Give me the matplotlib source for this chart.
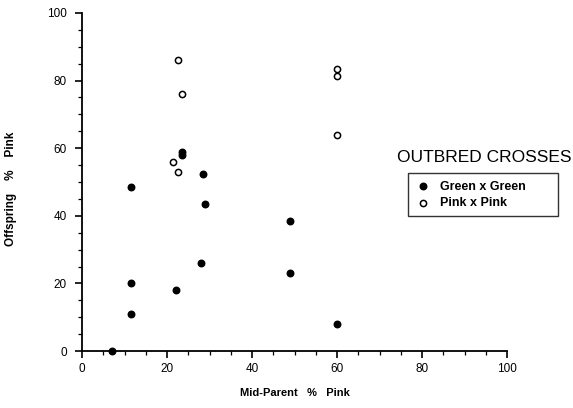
import matplotlib
matplotlib.use("Agg")
import matplotlib.pyplot as plt
from matplotlib.ticker import MultipleLocator

plt.rcParams['font.family'] = ['Liberation Sans', 'DejaVu Sans']

# Green x Green crosses (filled)
green_x = [7, 11.5, 11.5, 11.5, 22, 28, 29, 28.5, 23.5, 23.5, 49, 49, 60]
green_y = [0, 48.5, 20, 11, 18, 26, 43.5, 52.5, 59, 58, 38.5, 23, 8]

# Pink x Pink crosses (open)
pink_x = [22.5, 23.5, 21.5, 22.5, 60, 60, 60]
pink_y = [86, 76, 56, 53, 83.5, 81.5, 64]

fig = plt.figure(figsize=(5.73, 4.08), dpi=100)
ax = fig.add_axes([82/573, 57/408, 425/573, 338/408])

ax.scatter(green_x, green_y, s=22, c='black', marker='o', label='Green x Green',
           zorder=3, clip_on=False)
ax.scatter(pink_x, pink_y, s=20, facecolors='white', edgecolors='black',
           linewidths=1.1, marker='o', label='Pink x Pink', zorder=3, clip_on=False)

ax.set_xlim(0, 100)
ax.set_ylim(0, 100)
ax.xaxis.set_major_locator(MultipleLocator(20))
ax.xaxis.set_minor_locator(MultipleLocator(5))
ax.yaxis.set_major_locator(MultipleLocator(20))
ax.yaxis.set_minor_locator(MultipleLocator(5))
ax.tick_params(which='major', length=5, width=1.2, labelsize=8.5, pad=6)
ax.tick_params(axis='x', which='major', pad=4)
ax.tick_params(which='minor', length=3, width=0.9)

for side in ['top', 'right']:
    ax.spines[side].set_visible(False)
for side in ['left', 'bottom']:
    ax.spines[side].set_linewidth(1.3)

ax.set_xlabel('Mid-Parent   %   Pink', fontsize=8, fontweight='bold', labelpad=9)
ax.set_ylabel('Offspring    %    Pink', fontsize=8.5, fontweight='bold', labelpad=17)
ax.yaxis.set_label_coords(-0.152, 0.48)

fig.text(484/573, 1 - 157/408, 'OUTBRED CROSSES', fontsize=12.5, ha='center', va='center')
leg = ax.legend(loc='upper left', mode='expand',
                bbox_to_anchor=(408/573, 1 - 217/408, 150/573, 44/408),
                bbox_transform=fig.transFigure, frameon=True, fancybox=False,
                edgecolor='black', fontsize=9, handletextpad=0.8, borderpad=0.6,
                labelspacing=0.35, handlelength=1.2, borderaxespad=0)
leg.get_frame().set_linewidth(1.0)
for t in leg.get_texts():
    t.set_fontweight('bold')

fig.savefig('out.png', dpi=100)
